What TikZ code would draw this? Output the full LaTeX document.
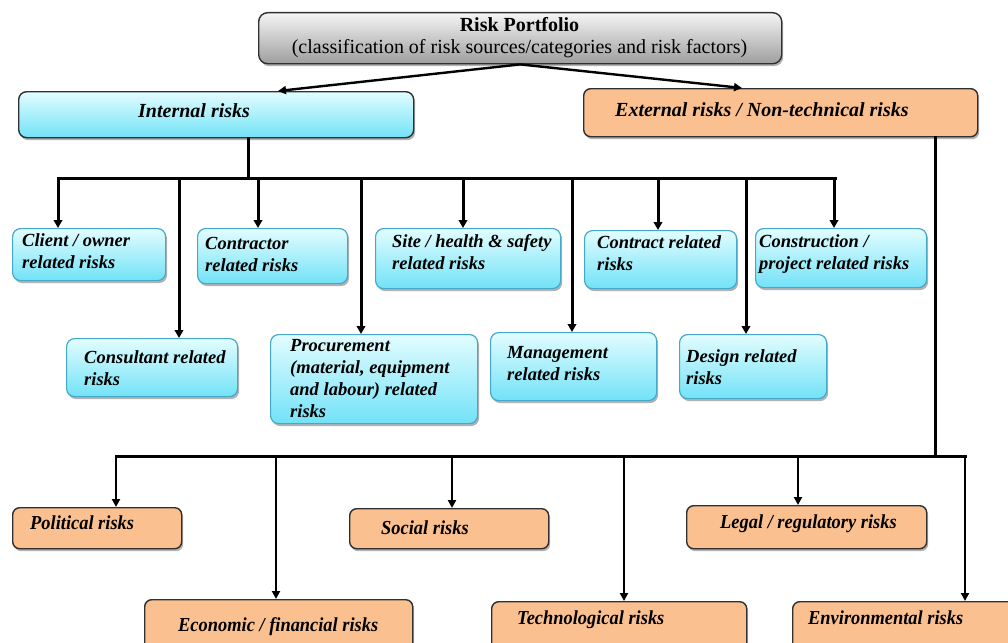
\documentclass[tikz,border=0pt]{standalone}
\usepackage{fontspec}
\setmainfont{Liberation Serif}
\usetikzlibrary{arrows.meta,shadows}
\definecolor{cbord}{HTML}{45A8C8}
\definecolor{ctop}{HTML}{E2FDFF}
\definecolor{cbot}{HTML}{72E2F7}
\definecolor{ofill}{HTML}{FAC090}
\definecolor{dbord}{HTML}{303030}
\newcommand\bx[6]{\node[#6, anchor=north west, minimum width=#4pt-#2pt, minimum height=#5pt-#3pt] (#1) at (#2,#3) {};}
\newcommand\cond[1]{\scalebox{0.93}[1]{#1}}
\begin{document}
\begin{tikzpicture}[x=1pt,y=-1pt,
  shd/.style={drop shadow={shadow xshift=1.5pt, shadow yshift=-2.5pt, fill=black, opacity=0.3}},
  cbox/.style={rectangle, rounded corners=8pt, draw=cbord, line width=1.2pt, top color=ctop, bottom color=cbot, shd, inner sep=0pt},
  cmain/.style={cbox, draw=dbord, line width=1.4pt},
  obox/.style={rectangle, rounded corners=7pt, draw=dbord, line width=1.4pt, fill=ofill, shd, inner sep=0pt},
  gbox/.style={rectangle, rounded corners=9pt, draw=dbord, line width=1.4pt, top color=black!4, bottom color=black!38, shd, inner sep=0pt},
  txt/.style={font=\bfseries\itshape\fontsize{18.5}{22}\selectfont, align=left, inner sep=0pt, anchor=west},
  mtxt/.style={txt, font=\bfseries\itshape\fontsize{20}{22}\selectfont},
  btxt/.style={txt, font=\bfseries\itshape\fontsize{19.8}{22}\selectfont},
  ln/.style={line width=3pt, line cap=rect},
  ar/.style={ln, -{Triangle[length=8pt,width=8.5pt]}},
  lnb/.style={line width=2.5pt, line cap=rect},
  arb/.style={lnb, -{Triangle[length=8pt,width=8pt]}}]
\useasboundingbox (0,0) rectangle (1008,642);
\clip (0,0) rectangle (1008,642);
% top
\bx{rp}{258}{12}{781}{63}{gbox}
\node[inner sep=0pt, align=center, font=\fontsize{20}{22}\selectfont] (rpT) at (519.5,38) {\textbf{Risk Portfolio}\\(classification of risk sources/categories and risk factors)};
\bx{int}{18}{91}{413}{137}{cmain}
\node[mtxt] (intT) at (138,111) {Internal risks};
\bx{ext}{583}{88}{977}{136}{obox}
\node[mtxt] (extT) at (615,110) {External risks / Non-technical risks};
\coordinate (ia) at (278,91);
\coordinate (ea) at (742,88);
\draw[line width=2.4pt, -{Triangle[length=8pt,width=8pt]}] (rp.south) -- (ia);
\draw[line width=2.4pt, -{Triangle[length=8pt,width=8pt]}] (rp.south) -- (ea);
% internal children
\bx{client}{12}{228}{165}{280}{cbox}
\node[txt] (clientT) at (22,251) {Client / owner\\related risks};
\bx{contr}{197}{228}{347}{283}{cbox}
\node[txt] (contrT) at (205,254) {Contractor\\related risks};
\bx{site}{375}{228}{560}{288}{cbox}
\node[txt] (siteT) at (392,252) {Site / health \& safety\\related risks};
\bx{contract}{584}{230}{736}{288}{cbox}
\node[txt] (contractT) at (597,253) {Contract related\\risks};
\bx{constr}{755}{228}{926}{287}{cbox}
\node[txt] (constrT) at (759,254) {Construction /\\project related risks};
\bx{consult}{66}{338}{237}{396}{cbox}
\node[txt] (consultT) at (84,368) {Consultant related\\risks};
\bx{proc}{270}{334}{477}{423}{cbox}
\node[txt] (procT) at (290,379) {Procurement\\(material, equipment\\and labour) related\\risks};
\bx{mgmt}{490}{332}{656}{400}{cbox}
\node[txt] (mgmtT) at (507,364) {Management\\related risks};
\bx{design}{679}{334}{826}{398}{cbox}
\node[txt] (designT) at (686,367) {Design related\\risks};
% external children
\bx{pol}{12}{507}{181}{548}{obox}
\node[btxt] (polT) at (30,523) {\cond{Political risks}};
\bx{soc}{349}{508}{548}{548}{obox}
\node[btxt] (socT) at (381,528) {\cond{Social risks}};
\bx{legal}{686}{505}{926}{548}{obox}
\node[btxt] (legalT) at (720,524) {\cond{Legal / regulatory risks}};
\bx{econ}{144}{599}{412}{660}{obox}
\node[btxt] (econT) at (178,627) {\cond{Economic / financial risks}};
\bx{tech}{491}{601}{746}{660}{obox}
\node[btxt] (techT) at (517,620) {\cond{Technological risks}};
\bx{env}{792}{601}{1030}{660}{obox}
\node[btxt] (envT) at (808,618) {\cond{Environmental risks}};
% internal connectors
\coordinate (ib) at (248,178);
\coordinate (ibl) at (58,178);
\coordinate (ibr) at (835,178);
\draw[ln] (int.south -| ib) -- (ib);
\draw[ln] (ibl) -- (ibr);
\foreach \x/\n in {58/client,179/consult,258/contr,361/proc,463/site,572/mgmt,658/contract,746/design,834/constr}{
  \coordinate (t) at (\x,178);
  \draw[ar] (t) -- (t |- \n.north);
}
% external connectors
\coordinate (eb) at (935,456);
\coordinate (ebl) at (116,456);
\coordinate (ebr) at (965,456);
\draw[ln] (ext.south -| eb) -- (eb);
\draw[ln] (ebl) -- (ebr);
\foreach \x/\n in {116/pol,276/econ,452/soc,624/tech,798/legal,965/env}{
  \coordinate (t) at (\x,456);
  \draw[arb] (t) -- (t |- \n.north);
}
\end{tikzpicture}
\end{document}
